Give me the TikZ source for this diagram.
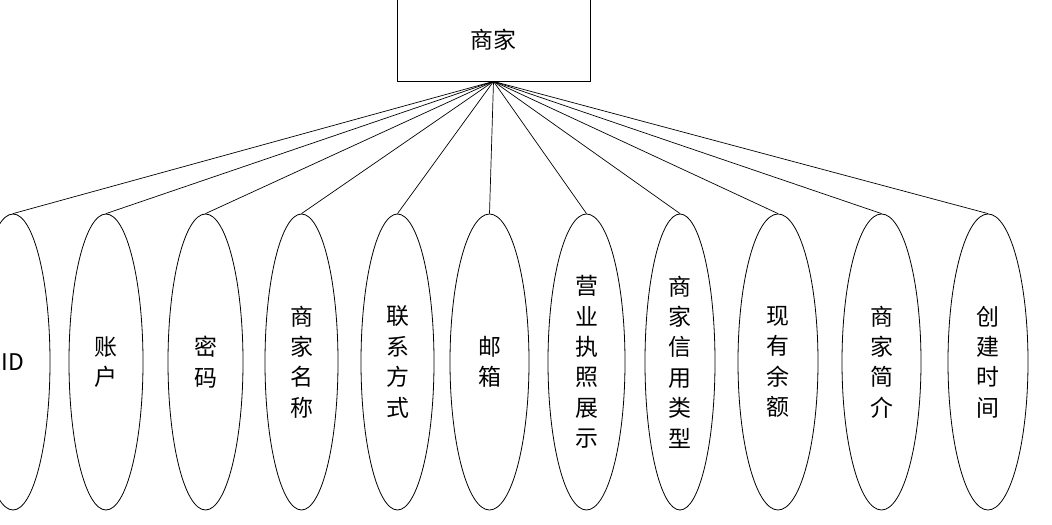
\documentclass[tikz,border=0pt]{standalone}
\usepackage{fontspec}
\setmainfont{Noto Sans CJK SC}
\usetikzlibrary{shapes.geometric}
\begin{document}
\begin{tikzpicture}[x=1bp,y=-1bp,
  lbl/.style={font=\fontsize{23}{30.5}\selectfont, align=center},
  entitybox/.style={draw, line width=0.8bp, rectangle, minimum width=193bp, minimum height=83bp, inner sep=0pt, lbl},
  attr/.style={draw, line width=0.8bp, ellipse, minimum height=296bp, inner sep=0pt, lbl},
  link/.style={line width=0.7bp}]
\useasboundingbox (0,0) rectangle (1052,525);
\node[entitybox] (m) at (493.5,39.5) {商家};
\node[attr, minimum width=74bp] (a1) at (13,362) {ID};
\node[attr, minimum width=74bp] (a2) at (106,362) {账\\户};
\node[attr, minimum width=75bp] (a3) at (205.5,362) {密\\码};
\node[attr, minimum width=73bp] (a4) at (301.5,362) {商\\家\\名\\称};
\node[attr, minimum width=73bp] (a5) at (397.5,362) {联\\系\\方\\式};
\node[attr, minimum width=79bp] (a6) at (489.5,362) {邮\\箱};
\node[attr, minimum width=77bp] (a7) at (586.5,362) {营\\业\\执\\照\\展\\示};
\node[attr, minimum width=70bp] (a8) at (680,362) {商\\家\\信\\用\\类\\型};
\node[attr, minimum width=80bp] (a9) at (778,362) {现\\有\\余\\额};
\node[attr, minimum width=79bp] (a10) at (881.5,362) {商\\家\\简\\介};
\node[attr, minimum width=80bp] (a11) at (988,362) {创\\建\\时\\间};
\foreach \i in {1,...,11} {\draw[link] (m.south) -- (a\i.north);}
\end{tikzpicture}
\end{document}
